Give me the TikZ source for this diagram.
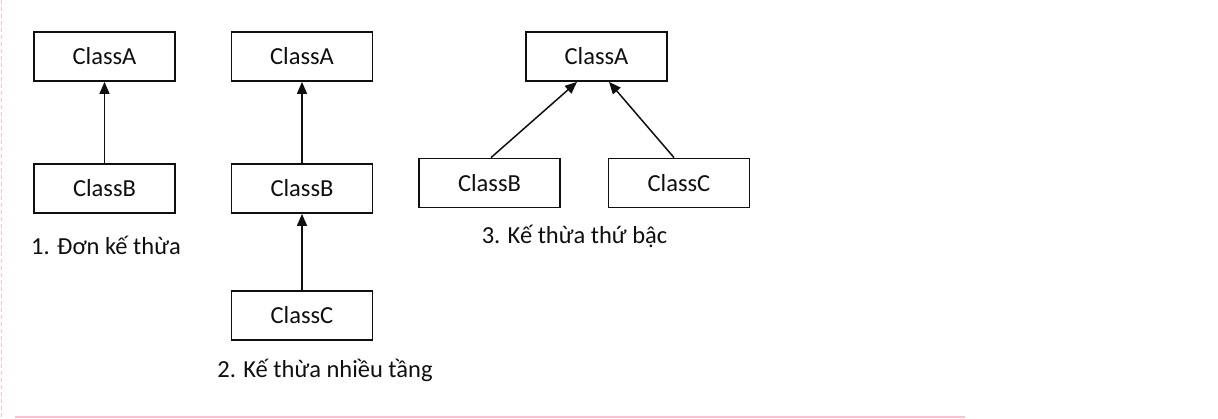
\documentclass[tikz,border=0pt]{standalone}
\usepackage{fontspec}
\setmainfont{Carlito}
\usetikzlibrary{arrows.meta}
\definecolor{ink}{RGB}{15,15,15}
\definecolor{pinkline}{RGB}{246,196,205}
\begin{document}
\begin{tikzpicture}[x=1pt,y=-1pt,
  classbox/.style={draw=ink,line width=1.8pt,minimum width=141pt,minimum height=49pt,inner sep=0pt,font=\fontsize{24.5}{28}\selectfont,text=ink},
  caption/.style={inner sep=0pt,font=\fontsize{24.5}{28}\selectfont,text=ink},
  inherit/.style={draw=ink,line width=1.5pt,-{Triangle[width=10pt,length=12pt]}}]
\useasboundingbox (0,0) rectangle (1218,418);
% page edges
\draw[pinkline,line width=1.2pt,dash pattern=on 4pt off 3pt] (1.5,0) -- (1.5,418);
\draw[pinkline,line width=1.2pt] (15,417) -- (965,417);
% 1. single inheritance
\node[classbox] (a1) at (104.5,56.5) {ClassA};
\node[classbox] (b1) at (104.5,188.5) {ClassB};
\draw[inherit] (b1) -- (a1);
\node[caption] (l1) at (106,245) {1. Đơn kế thừa};
% 2. multilevel
\node[classbox] (a2) at (302,56.5) {ClassA};
\node[classbox] (b2) at (302,188.5) {ClassB};
\node[classbox] (c2) at (302,315.5) {ClassC};
\draw[inherit] (b2) -- (a2);
\draw[inherit] (c2) -- (b2);
\node[caption] (l2) at (325,370) {2. Kế thừa nhiều tầng};
% 3. hierarchical
\node[classbox] (a3) at (596.5,56.5) {ClassA};
\node[classbox] (b3) at (489.5,183) {ClassB};
\node[classbox] (c3) at (679,183) {ClassC};
\draw[inherit] ([xshift=1.5pt]b3.north) -- ([xshift=-19.5pt]a3.south);
\draw[inherit] ([xshift=-5pt]c3.north) -- ([xshift=12.5pt]a3.south);
\node[caption] (l3) at (574.5,236) {3. Kế thừa thứ bậc};
\end{tikzpicture}
\end{document}
